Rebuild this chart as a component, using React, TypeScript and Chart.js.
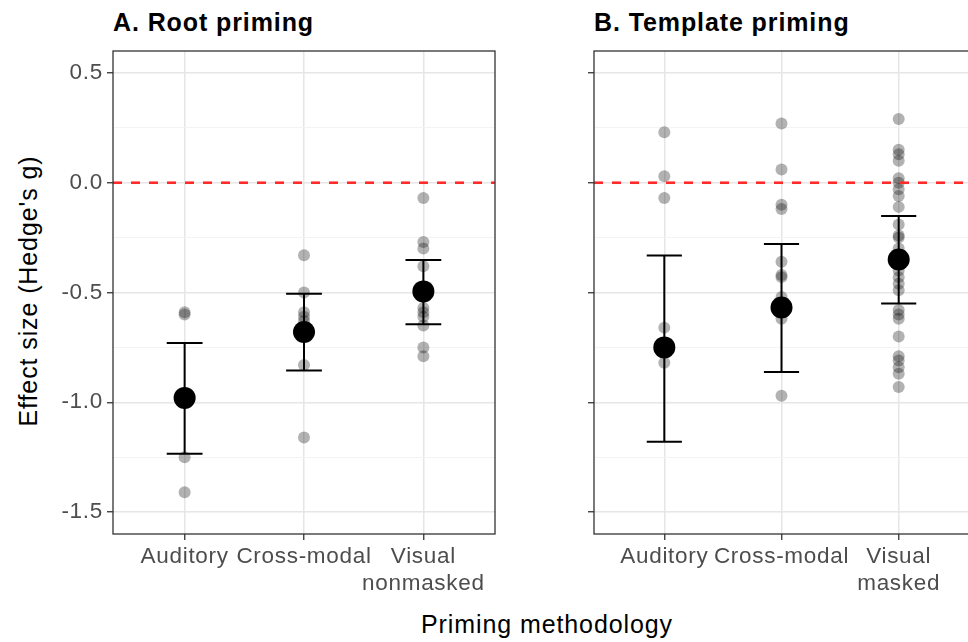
import React, { useEffect, useRef } from "react";
import { Chart, registerables } from "chart.js";

Chart.register(...registerables);

const FONT = "'Liberation Sans', Arial, Helvetica, sans-serif";

// Categories of each panel
const ROOT_CATEGORIES: (string | string[])[] = ["Auditory", "Cross-modal", ["Visual", "nonmasked"]];
const TEMPLATE_CATEGORIES: (string | string[])[] = ["Auditory", "Cross-modal", ["Visual", "masked"]];

// Individual study effect sizes (Hedge's g), root priming
const ROOT_AUDITORY = [-0.59, -0.6, -1.25, -1.41];
const ROOT_CROSSMODAL = [-0.33, -0.5, -0.59, -0.61, -0.63, -0.83, -1.16];
const ROOT_VISUAL = [-0.07, -0.27, -0.3, -0.38, -0.49, -0.57, -0.59, -0.61, -0.65, -0.75, -0.79];

// Individual study effect sizes (Hedge's g), template priming
const TEMPLATE_AUDITORY = [0.23, 0.03, -0.07, -0.66, -0.75, -0.82];
const TEMPLATE_CROSSMODAL = [0.27, 0.06, -0.1, -0.12, -0.36, -0.42, -0.43, -0.52, -0.57, -0.62, -0.97];
const TEMPLATE_VISUAL = [
  0.29, 0.15, 0.13, 0.1, 0.02, 0.0, -0.03, -0.06, -0.11, -0.19, -0.24, -0.25, -0.3, -0.35,
  -0.4, -0.43, -0.46, -0.49, -0.58, -0.6, -0.62, -0.7, -0.79, -0.81, -0.84, -0.87, -0.93,
];

// Pooled estimates with confidence intervals
const ROOT_MEAN = [-0.98, -0.68, -0.495];
const ROOT_CI_LOW = [-1.235, -0.855, -0.645];
const ROOT_CI_HIGH = [-0.73, -0.506, -0.352];

const TEMPLATE_MEAN = [-0.75, -0.568, -0.35];
const TEMPLATE_CI_LOW = [-1.18, -0.862, -0.55];
const TEMPLATE_CI_HIGH = [-0.331, -0.279, -0.152];

// Axis ticks
const Y_TICKS = [-1.5, -1.25, -1.0, -0.75, -0.5, -0.25, 0.0, 0.25, 0.5];
const Y_MIN = -1.6;
const Y_MAX = 0.6;
const X_MIN = 0.4;
const X_MAX = 3.6;
const REFERENCE_LINE = 0;
const CAP_HALF_WIDTH = 0.15;

const MAJOR_GRID = "#e6e6e6";
const MINOR_GRID = "#f3f3f3";
const FRAME = "#333333";
const TICK_TEXT = "#4d4d4d";

const isMajor = (v: number) => Math.abs(v * 2 - Math.round(v * 2)) < 1e-6;

const framePlugin = {
  id: "panelFrame",
  beforeDraw(chart: any) {
    chart.ctx.letterSpacing = "0.7px";
  },
  afterDraw(chart: any) {
    const { ctx, chartArea: a } = chart;
    ctx.save();
    ctx.strokeStyle = FRAME;
    ctx.lineWidth = 1.3;
    ctx.strokeRect(a.left, a.top, a.right - a.left, a.bottom - a.top);
    ctx.restore();
  },
};

type PanelProps = {
  categories: (string | string[])[];
  groups: number[][];
  means: number[];
  low: number[];
  high: number[];
  left: number;
  width: number;
  axisWidth: number;
  padRight: number;
  showYLabels: boolean;
};

function Panel(props: PanelProps) {
  const ref = useRef<HTMLCanvasElement | null>(null);

  useEffect(() => {
    if (!ref.current) return;
    const { categories, groups, means, low, high, axisWidth, padRight, showYLabels } = props;

    const studies = groups.flatMap((vals, i) => vals.map((v) => ({ x: i + 1, y: v })));
    const pooled = means.map((m, i) => ({ x: i + 1, y: m }));
    const bars: { x: number; y: number | null }[] = [];
    low.forEach((lo, i) => {
      const x = i + 1;
      const hi = high[i];
      bars.push({ x, y: lo }, { x, y: hi }, { x, y: null });
      bars.push({ x: x - CAP_HALF_WIDTH, y: lo }, { x: x + CAP_HALF_WIDTH, y: lo }, { x, y: null });
      bars.push({ x: x - CAP_HALF_WIDTH, y: hi }, { x: x + CAP_HALF_WIDTH, y: hi }, { x, y: null });
    });

    const chart = new Chart(ref.current, {
      type: "scatter",
      data: {
        datasets: [
          {
            label: "Pooled estimate",
            data: pooled,
            pointRadius: 11,
            pointBackgroundColor: "#000000",
            pointBorderWidth: 0,
          },
          {
            label: "Confidence interval",
            data: bars as any,
            showLine: true,
            spanGaps: false,
            pointRadius: 0,
            borderColor: "#000000",
            borderWidth: 2,
          },
          {
            label: "No effect",
            data: [
              { x: X_MIN, y: REFERENCE_LINE },
              { x: X_MAX, y: REFERENCE_LINE },
            ],
            showLine: true,
            pointRadius: 0,
            borderColor: "#ff2b2b",
            borderWidth: 2.6,
            borderDash: [9, 9],
          },
          {
            label: "Studies",
            data: studies,
            pointRadius: 6,
            pointBackgroundColor: "rgba(0,0,0,0.3)",
            pointBorderWidth: 0,
          },
        ],
      },
      options: {
        responsive: false,
        animation: false,
        devicePixelRatio: 1,
        events: [],
        layout: { padding: { top: 8, right: padRight, left: 0, bottom: 0 } },
        plugins: { legend: { display: false }, tooltip: { enabled: false } },
        scales: {
          x: {
            type: "linear",
            min: X_MIN,
            max: X_MAX,
            afterBuildTicks: (s: any) => {
              s.ticks = categories.map((_, i) => ({ value: i + 1 }));
            },
            afterFit: (s: any) => {
              s.height = 66;
              s.paddingLeft = 0;
              s.paddingRight = 0;
            },
            ticks: {
              autoSkip: false,
              maxRotation: 0,
              minRotation: 0,
              padding: 3,
              color: TICK_TEXT,
              font: { family: FONT, size: 22.5, lineHeight: 1.22 },
              callback: (v: any) => categories[Math.round(Number(v)) - 1] as any,
            },
            grid: {
              color: MAJOR_GRID,
              lineWidth: 1.5,
              tickColor: FRAME,
              tickWidth: 1.3,
              tickLength: 6,
            },
            border: { display: false },
          },
          y: {
            type: "linear",
            min: Y_MIN,
            max: Y_MAX,
            afterBuildTicks: (s: any) => {
              s.ticks = Y_TICKS.map((v) => ({ value: v }));
            },
            afterFit: (s: any) => {
              s.width = axisWidth;
              s.paddingTop = 0;
              s.paddingBottom = 0;
            },
            ticks: {
              autoSkip: false,
              padding: 4,
              color: TICK_TEXT,
              font: { family: FONT, size: 22.5 },
              callback: (v: any) => (showYLabels && isMajor(Number(v)) ? Number(v).toFixed(1) : ""),
            },
            grid: {
              color: (c: any) => (isMajor(c.tick.value) ? MAJOR_GRID : MINOR_GRID),
              lineWidth: (c: any) => (isMajor(c.tick.value) ? 1.5 : 1),
              tickColor: (c: any) => (isMajor(c.tick.value) ? FRAME : "rgba(0,0,0,0)"),
              tickWidth: 1.3,
              tickLength: 6,
            },
            border: { display: false },
          },
        },
      },
      plugins: [framePlugin],
    });
    return () => chart.destroy();
  }, []);

  return (
    <canvas
      ref={ref}
      width={props.width}
      height={560}
      style={{ position: "absolute", left: props.left, top: 40, width: props.width, height: 560 }}
    />
  );
}

const textBase: React.CSSProperties = {
  position: "absolute",
  fontFamily: FONT,
  fontSize: 25,
  lineHeight: "25px",
  letterSpacing: "0.9px",
  color: "#000",
  whiteSpace: "nowrap",
};

export default function App() {
  return (
    <div
      style={{
        position: "fixed",
        left: 0,
        top: 0,
        width: 968,
        height: 642,
        overflow: "hidden",
        background: "#ffffff",
      }}
    >
      <div style={{ ...textBase, left: 113, top: 10, fontWeight: "bold" }}>A. Root priming</div>
      <div style={{ ...textBase, left: 594, top: 10, fontWeight: "bold" }}>B. Template priming</div>
      <div
        style={{
          ...textBase,
          left: 28,
          top: 291,
          transform: "translate(-50%, -50%) rotate(-90deg)",
        }}
      >
        Effect size (Hedge's g)
      </div>
      <div style={{ ...textBase, left: 547, top: 612, transform: "translateX(-50%)" }}>
        Priming methodology
      </div>
      <Panel
        categories={ROOT_CATEGORIES}
        groups={[ROOT_AUDITORY, ROOT_CROSSMODAL, ROOT_VISUAL]}
        means={ROOT_MEAN}
        low={ROOT_CI_LOW}
        high={ROOT_CI_HIGH}
        left={0}
        width={520}
        axisWidth={113}
        padRight={25}
        showYLabels={true}
      />
      <Panel
        categories={TEMPLATE_CATEGORIES}
        groups={[TEMPLATE_AUDITORY, TEMPLATE_CROSSMODAL, TEMPLATE_VISUAL]}
        means={TEMPLATE_MEAN}
        low={TEMPLATE_CI_LOW}
        high={TEMPLATE_CI_HIGH}
        left={520}
        width={460}
        axisWidth={74}
        padRight={4}
        showYLabels={false}
      />
    </div>
  );
}
